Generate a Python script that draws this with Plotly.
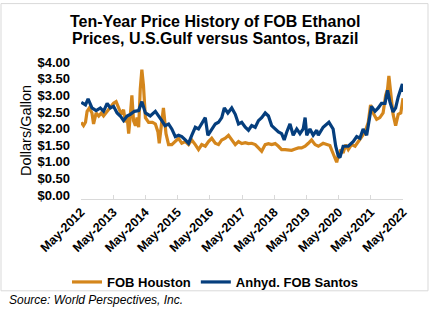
import plotly.graph_objects as go
import pandas as pd

# ---- data (decimal years, $/gallon) ----
houston_t = [2012.34, 2012.41, 2012.47, 2012.52, 2012.59, 2012.67, 2012.72, 2012.80, 2012.88, 2012.96,
             2013.03, 2013.14, 2013.24, 2013.34, 2013.42, 2013.50, 2013.58, 2013.65, 2013.71, 2013.76,
             2013.81, 2013.86, 2013.91, 2013.96, 2014.02, 2014.07, 2014.12, 2014.17, 2014.22, 2014.27,
             2014.33, 2014.43, 2014.55, 2014.64, 2014.72, 2014.76, 2014.84, 2014.89, 2014.97, 2015.05,
             2015.15, 2015.26, 2015.36, 2015.46, 2015.57, 2015.67, 2015.77, 2015.88, 2015.98, 2016.08,
             2016.19, 2016.29, 2016.39, 2016.50, 2016.60, 2016.70, 2016.81, 2016.91, 2017.01, 2017.12,
             2017.22, 2017.32, 2017.43, 2017.53, 2017.63, 2017.74, 2017.84, 2017.94, 2018.05, 2018.15,
             2018.25, 2018.36, 2018.46, 2018.56, 2018.67, 2018.77, 2018.87, 2018.98, 2019.08, 2019.18,
             2019.29, 2019.39, 2019.49, 2019.60, 2019.70, 2019.85, 2019.96, 2020.06, 2020.13, 2020.22,
             2020.27, 2020.32, 2020.40, 2020.47, 2020.55, 2020.63, 2020.73, 2020.84, 2020.94, 2021.04,
             2021.15, 2021.25, 2021.32, 2021.40, 2021.51, 2021.61, 2021.71, 2021.79, 2021.85, 2021.89,
             2021.95, 2022.02, 2022.10, 2022.18, 2022.26, 2022.33]
houston_v = [2.19, 2.09, 2.19, 2.52, 2.62, 2.47, 2.14, 2.47, 2.38, 2.47,
             2.38, 2.52, 2.62, 2.76, 2.81, 2.62, 2.43, 2.57, 2.19, 2.38,
             1.85, 2.38, 3.00, 2.24, 2.09, 2.33, 2.04, 3.19, 3.77, 3.29,
             2.33, 2.19, 2.19, 2.14, 1.90, 1.56, 2.33, 2.62, 1.85, 1.52,
             1.52, 1.61, 1.71, 1.56, 1.61, 1.52, 1.66, 1.52, 1.37, 1.52,
             1.47, 1.61, 1.71, 1.56, 1.52, 1.66, 1.71, 1.80, 1.66, 1.52,
             1.61, 1.55, 1.58, 1.55, 1.56, 1.52, 1.42, 1.32, 1.52, 1.55,
             1.52, 1.55, 1.47, 1.37, 1.37, 1.35, 1.35, 1.39, 1.42, 1.42,
             1.47, 1.56, 1.66, 1.52, 1.47, 1.56, 1.52, 1.49, 1.32, 1.13,
             0.99, 1.18, 1.37, 1.27, 1.52, 1.37, 1.52, 1.47, 1.61, 1.76,
             1.90, 2.19, 2.71, 2.47, 2.28, 2.33, 2.47, 3.00, 3.19, 3.58,
             3.10, 2.43, 2.09, 2.43, 2.47, 2.91]

santos_t = [2012.34, 2012.47, 2012.55, 2012.67, 2012.80, 2012.93, 2013.03, 2013.14, 2013.24, 2013.34,
            2013.45, 2013.55, 2013.65, 2013.76, 2013.86, 2013.99, 2014.12, 2014.22, 2014.33, 2014.48,
            2014.64, 2014.74, 2014.84, 2014.94, 2015.05, 2015.15, 2015.26, 2015.36, 2015.46, 2015.57,
            2015.67, 2015.77, 2015.88, 2015.98, 2016.08, 2016.19, 2016.27, 2016.39, 2016.50, 2016.60,
            2016.70, 2016.78, 2016.89, 2017.01, 2017.12, 2017.22, 2017.32, 2017.43, 2017.53, 2017.63,
            2017.74, 2017.84, 2017.94, 2018.05, 2018.15, 2018.25, 2018.36, 2018.46, 2018.56, 2018.64,
            2018.72, 2018.82, 2018.92, 2019.03, 2019.13, 2019.23, 2019.29, 2019.34, 2019.44, 2019.54,
            2019.65, 2019.70, 2019.85, 2020.03, 2020.16, 2020.24, 2020.32, 2020.37, 2020.47, 2020.63,
            2020.78, 2020.89, 2020.99, 2021.09, 2021.20, 2021.28, 2021.35, 2021.46, 2021.56, 2021.66,
            2021.77, 2021.85, 2021.92, 2022.02, 2022.10, 2022.18, 2022.26, 2022.31, 2022.33]
santos_v = [2.79, 2.71, 2.89, 2.62, 2.54, 2.62, 2.52, 2.76, 2.62, 2.67,
            2.47, 2.38, 2.24, 2.38, 2.43, 2.52, 2.54, 2.81, 2.47, 2.38,
            2.52, 2.36, 2.24, 2.09, 2.14, 1.99, 1.76, 1.80, 1.76, 1.66,
            1.56, 1.80, 2.04, 1.99, 2.14, 2.33, 1.80, 1.99, 2.14, 2.19,
            2.33, 2.62, 2.47, 2.62, 2.43, 2.14, 2.19, 2.04, 1.95, 2.09,
            2.04, 2.24, 2.33, 2.47, 2.38, 2.09, 1.99, 1.90, 1.85, 1.66,
            1.90, 2.14, 1.80, 1.99, 1.85, 1.99, 2.33, 1.80, 1.99, 1.80,
            1.95, 1.80, 2.04, 2.19, 1.99, 1.47, 1.18, 1.13, 1.47, 1.47,
            1.61, 1.76, 1.71, 1.99, 1.80, 2.24, 2.67, 2.52, 2.62, 2.76,
            2.76, 3.15, 2.81, 2.50, 2.62, 2.95, 3.19, 3.34, 3.10]

y_ticks = [0, 0.5, 1, 1.5, 2, 2.5, 3, 3.5, 4]
y_tick_labels = ["$0.00", "$0.50", "$1.00", "$1.50", "$2.00", "$2.50", "$3.00", "$3.50", "$4.00"]

title_lines = ["Ten-Year Price History of FOB Ethanol", "Prices, U.S.Gulf versus Santos, Brazil"]
source_text = "Source: World Perspectives, Inc."


def to_dates(ts):
    out = []
    for t in ts:
        y = int(t)
        start = pd.Timestamp(year=y, month=1, day=1)
        end = pd.Timestamp(year=y + 1, month=1, day=1)
        out.append(start + (end - start) * (t - y))
    return out


W, H = 430, 324
ML, MR, MT, MB = 81, 27, 62, 119
FONT = "Liberation Sans, Arial, sans-serif"
ORANGE = "#D4861C"
BLUE = "#053E7D"

fig = go.Figure()
fig.add_trace(go.Scatter(x=to_dates(houston_t), y=houston_v, mode="lines", name="FOB Houston",
                         line=dict(color=ORANGE, width=3.2)))
fig.add_trace(go.Scatter(x=to_dates(santos_t), y=santos_v, mode="lines", name="Anhyd. FOB Santos",
                         line=dict(color=BLUE, width=3.2)))

pw = W - ML - MR
ph = H - MT - MB


def px_x(x):
    return (x - ML) / pw


def px_y(y):
    return (H - MB - y) / ph


fig.update_layout(
    width=W, height=H,
    margin=dict(l=ML, r=MR, t=MT, b=MB),
    paper_bgcolor="white", plot_bgcolor="white",
    font=dict(family=FONT, color="black"),
    showlegend=True,
    legend=dict(orientation="h", xref="container", yref="container", x=0.5, xanchor="center",
                y=1 - 282 / H, yanchor="middle", font=dict(size=13, family=FONT, weight="bold"),
                bgcolor="rgba(0,0,0,0)"),
    xaxis=dict(type="date", range=["2012-05-01", "2022-05-01"], tick0="2012-05-01", dtick="M12",
               tickformat="%b-%Y", tickangle=-45, showgrid=False, zeroline=False,
               showline=True, linecolor="#d9d9d9", linewidth=1,
               ticks="inside", ticklen=4, tickcolor="#d9d9d9",
               tickfont=dict(size=12.5, family=FONT, weight="bold")),
    yaxis=dict(range=[-0.11, 4.0], tickvals=y_ticks, ticktext=y_tick_labels, showgrid=False,
               zeroline=False, showline=False, ticks="", ticklabelstandoff=10,
               tickfont=dict(size=13, family=FONT, weight="bold"),
               title=dict(text="Dollars/Gallon", font=dict(size=14.5, family=FONT), standoff=2)),
)

fig.add_annotation(text="<b>" + title_lines[0] + "</b>", xref="paper", yref="paper",
                   x=px_x(215), y=px_y(20), xanchor="center", yanchor="middle", showarrow=False,
                   font=dict(size=16, family=FONT))
fig.add_annotation(text="<b>" + title_lines[1] + "</b>", xref="paper", yref="paper",
                   x=px_x(215), y=px_y(37), xanchor="center", yanchor="middle", showarrow=False,
                   font=dict(size=16, family=FONT))
fig.add_annotation(text="<i>" + source_text + "</i>", xref="paper", yref="paper",
                   x=px_x(7), y=px_y(311), xanchor="left", yanchor="middle", showarrow=False,
                   font=dict(size=12, family=FONT))

fig.add_shape(type="rect", xref="paper", yref="paper",
              x0=px_x(1), x1=px_x(428), y0=px_y(1), y1=px_y(301),
              line=dict(color="#d9d9d9", width=1), fillcolor="rgba(0,0,0,0)", layer="below")

fig.write_html("out.html")
